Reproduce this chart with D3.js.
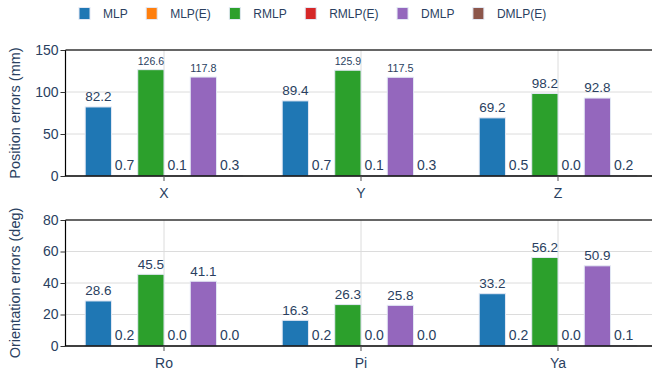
<!DOCTYPE html>
<html>
<head>
<meta charset="utf-8">
<script src="https://cdn.jsdelivr.net/npm/d3@7"></script>
<style>
  html, body { margin: 0; padding: 0; background: #fff; }
  svg { display: block; font-family: "Liberation Sans", Arial, sans-serif; }
</style>
</head>
<body>
<svg id="chart" width="652" height="374"></svg>
<script>
// Series (bars are interleaved in this order inside every category group)
const seriesNames = ["MLP", "MLP(E)", "RMLP", "RMLP(E)", "DMLP", "DMLP(E)"];
const seriesColors = ["#1f77b4", "#ff7f0e", "#2ca02c", "#d62728", "#9467bd", "#8c564b"];

// Position errors (mm)
const posCategories = ["X", "Y", "Z"];
const posMLP   = [82.2, 89.4, 69.2];
const posMLPE  = [0.7, 0.7, 0.5];
const posRMLP  = [126.6, 125.9, 98.2];
const posRMLPE = [0.1, 0.1, 0.0];
const posDMLP  = [117.8, 117.5, 92.8];
const posDMLPE = [0.3, 0.3, 0.2];
const posTicks = [0, 50, 100, 150];

// Orientation errors (deg)
const oriCategories = ["Ro", "Pi", "Ya"];
const oriMLP   = [28.6, 16.3, 33.2];
const oriMLPE  = [0.2, 0.2, 0.2];
const oriRMLP  = [45.5, 26.3, 56.2];
const oriRMLPE = [0.0, 0.0, 0.0];
const oriDMLP  = [41.1, 25.8, 50.9];
const oriDMLPE = [0.0, 0.0, 0.1];
const oriTicks = [0, 20, 40, 60, 80];

const textColor = "#2a3f5f";
const svg = d3.select("#chart");

const plotLeft = 65.5, plotRight = 656.5;

function drawPanel(cfg) {
  const { top, bottom, categories, series, ticks, yMax, title } = cfg;
  const g = svg.append("g");

  const x = d3.scaleBand().domain(categories).range([plotLeft, plotRight]).padding(0);
  const groupWidth = x.bandwidth() * 0.8;
  const xs = d3.scaleBand().domain(seriesNames).range([0, groupWidth]).padding(0);
  const groupOffset = (x.bandwidth() - groupWidth) / 2;
  const y = d3.scaleLinear().domain([0, yMax]).range([bottom, top]);

  // horizontal grid
  g.append("g").selectAll("line").data(ticks.filter(t => t > 0 && t < yMax)).join("line")
    .attr("x1", plotLeft).attr("x2", plotRight)
    .attr("y1", d => y(d)).attr("y2", d => y(d))
    .attr("stroke", "#dcdcdc").attr("stroke-width", 1);
  // vertical grid at category centres
  g.append("g").selectAll("line").data(categories).join("line")
    .attr("x1", d => x(d) + x.bandwidth() / 2).attr("x2", d => x(d) + x.bandwidth() / 2)
    .attr("y1", top).attr("y2", bottom)
    .attr("stroke", "#dcdcdc").attr("stroke-width", 1);

  // bars
  const rows = [];
  categories.forEach((c, ci) => {
    seriesNames.forEach((s, si) => rows.push({ cat: c, name: s, color: seriesColors[si], value: series[si][ci] }));
  });
  const bx = d => x(d.cat) + groupOffset + xs(d.name);
  g.append("g").selectAll("rect").data(rows).join("rect")
    .attr("x", bx)
    .attr("y", d => y(d.value))
    .attr("width", xs.bandwidth())
    .attr("height", d => y(0) - y(d.value))
    .attr("fill", d => d.color)
    .attr("stroke", "#e3e8f4").attr("stroke-width", 1);

  // value labels above bars, shrunk to bar width when too wide
  const labels = g.append("g").selectAll("text").data(rows).join("text")
    .attr("text-anchor", "middle")
    .attr("fill", textColor)
    .attr("font-size", 14)
    .text(d => d.value.toFixed(1));
  labels.each(function (d) {
    const el = d3.select(this);
    const w = this.getComputedTextLength();
    const fs = Math.min(14, 14 * xs.bandwidth() / w);
    el.attr("font-size", fs)
      .attr("x", bx(d) + xs.bandwidth() / 2)
      .attr("y", y(d.value) - 3 - 0.2 * fs);
  });

  // frame: top line, left axis line, bottom axis line
  g.append("line").attr("x1", plotLeft).attr("x2", plotRight).attr("y1", top).attr("y2", top)
    .attr("stroke", "#333").attr("stroke-width", 1.4);
  g.append("line").attr("x1", plotLeft).attr("x2", plotLeft).attr("y1", top).attr("y2", bottom)
    .attr("stroke", "#000").attr("stroke-width", 1.2);
  g.append("line").attr("x1", plotLeft - 0.6).attr("x2", plotRight).attr("y1", bottom).attr("y2", bottom)
    .attr("stroke", "#000").attr("stroke-width", 1.4);

  // y axis
  const yAxis = d3.axisLeft(y).tickValues(ticks).tickSize(5).tickPadding(2).tickFormat(d3.format("d"));
  const ya = g.append("g").attr("transform", `translate(${plotLeft},0)`).call(yAxis);
  ya.select(".domain").remove();
  ya.selectAll(".tick line").attr("stroke", "#333");
  ya.selectAll(".tick text").attr("fill", textColor).attr("font-size", 14)
    .attr("font-family", "Liberation Sans, Arial, sans-serif");

  // x axis
  const xAxis = d3.axisBottom(x).tickSize(5).tickPadding(7);
  const xa = g.append("g").attr("transform", `translate(0,${bottom})`).call(xAxis);
  xa.select(".domain").remove();
  xa.selectAll(".tick line").attr("stroke", "#555");
  xa.selectAll(".tick text").attr("fill", textColor).attr("font-size", 14)
    .attr("font-family", "Liberation Sans, Arial, sans-serif");

  // axis title
  g.append("text")
    .attr("transform", `translate(19.5,${(top + bottom) / 2}) rotate(-90)`)
    .attr("text-anchor", "middle")
    .attr("fill", textColor)
    .attr("font-size", 14.5)
    .text(title);
}

drawPanel({
  top: 50, bottom: 176, yMax: 150, ticks: posTicks, categories: posCategories,
  series: [posMLP, posMLPE, posRMLP, posRMLPE, posDMLP, posDMLPE],
  title: "Position errors (mm)"
});
drawPanel({
  top: 220, bottom: 346, yMax: 80, ticks: oriTicks, categories: oriCategories,
  series: [oriMLP, oriMLPE, oriRMLP, oriRMLPE, oriDMLP, oriDMLPE],
  title: "Orientation errors (deg)"
});

// legend
const legend = svg.append("g");
let lx = 79;
const ly = 13.5;
seriesNames.forEach((name, i) => {
  legend.append("rect")
    .attr("x", lx).attr("y", ly - 6).attr("width", 11).attr("height", 12)
    .attr("fill", seriesColors[i]).attr("stroke", "#e3e8f4").attr("stroke-width", 1);
  const t = legend.append("text")
    .attr("x", lx + 24).attr("y", ly + 4.5)
    .attr("fill", textColor).attr("font-size", 12)
    .text(name);
  lx = lx + 24 + t.node().getComputedTextLength() + 18.5;
});
</script>
</body>
</html>
